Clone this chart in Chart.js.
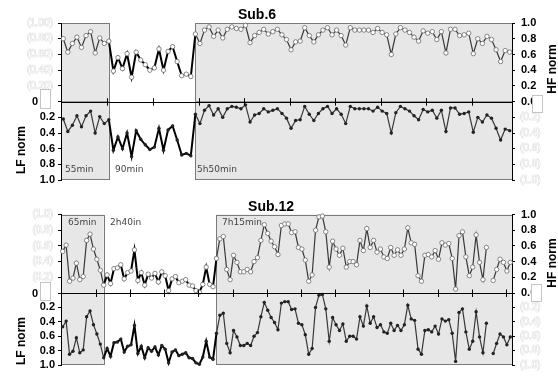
<!DOCTYPE html>
<html>
<head>
<meta charset="utf-8">
<script src="https://cdn.jsdelivr.net/npm/chart.js@4.4.1/dist/chart.umd.min.js"></script>
<style>
  html, body { margin: 0; padding: 0; background: #fff; }
  #wrap { position: relative; width: 558px; height: 376px; overflow: hidden; }
  #wrap canvas { position: absolute; left: 0; top: 0; }
</style>
</head>
<body>
<div id="wrap">
  <canvas id="hf6" width="558" height="376"></canvas>
  <canvas id="lf6" width="558" height="376"></canvas>
  <canvas id="hf12" width="558" height="376"></canvas>
  <canvas id="lf12" width="558" height="376"></canvas>
</div>
<script>
// Sub.6 (99 samples)
const sub6Hf = [0.80, 0.63, 0.74, 0.82, 0.69, 0.84, 0.89, 0.62, 0.81, 0.74, 0.77,
  0.39, 0.56, 0.42, 0.61, 0.31, 0.63, 0.53, 0.47, 0.40, 0.43, 0.67, 0.40, 0.64, 0.70, 0.51, 0.33, 0.35, 0.32,
  0.86, 0.74, 0.91, 0.95, 0.83, 0.91, 0.81, 0.92, 0.95, 0.93, 0.92, 0.97, 0.75, 0.84, 0.88, 0.92, 0.86, 0.89, 0.92,
  0.85, 0.79, 0.66, 0.76, 0.77, 0.94, 0.84, 0.76, 0.85, 0.91, 0.94, 0.85, 0.91, 0.84, 0.72, 0.94, 0.91, 0.91,
  0.91, 0.91, 0.88, 0.93, 0.88, 0.85, 0.60, 0.86, 0.94, 0.91, 0.88, 0.82, 0.77, 0.90, 0.87, 0.89, 0.79, 0.89,
  0.62, 0.92, 0.92, 0.84, 0.85, 0.87, 0.61, 0.80, 0.74, 0.83, 0.79, 0.66, 0.51, 0.65, 0.63];
const sub6Lf = [0.22, 0.38, 0.30, 0.18, 0.32, 0.18, 0.12, 0.40, 0.19, 0.28, 0.23,
  0.62, 0.45, 0.60, 0.40, 0.70, 0.37, 0.48, 0.55, 0.61, 0.58, 0.34, 0.62, 0.36, 0.31, 0.49, 0.68, 0.66, 0.69,
  0.16, 0.28, 0.11, 0.05, 0.17, 0.09, 0.20, 0.09, 0.06, 0.07, 0.09, 0.04, 0.26, 0.17, 0.15, 0.09, 0.13, 0.11, 0.09,
  0.15, 0.21, 0.34, 0.24, 0.23, 0.06, 0.16, 0.24, 0.15, 0.09, 0.06, 0.15, 0.09, 0.16, 0.28, 0.06, 0.09, 0.09,
  0.09, 0.09, 0.12, 0.07, 0.12, 0.15, 0.40, 0.14, 0.06, 0.09, 0.12, 0.18, 0.23, 0.10, 0.13, 0.11, 0.21, 0.11,
  0.38, 0.08, 0.08, 0.16, 0.15, 0.13, 0.39, 0.20, 0.26, 0.17, 0.21, 0.34, 0.49, 0.35, 0.37];

// Sub.12 (132 samples, one missing)
const sub12Hf = [0.53, 0.61, 0.15, 0.19, 0.38, 0.17, 0.21, 0.67, 0.75, 0.56, 0.43, 0.29, 0.10,
  0.23, 0.12, 0.31, 0.32, 0.36, 0.18, 0.26, 0.28, 0.55, 0.16, 0.26, 0.10, 0.24, 0.19, 0.25, 0.14, 0.27,
  0.22, 0.03, 0.18, 0.21, 0.13, 0.15, 0.17, 0.10, 0.09, 0.03, 0.01, 0.11, 0.33, 0.11, 0.08,
  0.44, 0.69, 0.72, 0.30, 0.17, 0.48, 0.39, 0.27, 0.27, 0.30, 0.27, 0.40, 0.45, 0.67, 0.87, 0.76, 0.66,
  0.59, 0.49, 0.86, 0.88, 0.88, 0.77, 0.78, 0.58, 0.56, 0.42, 0.15, 0.23, 0.80, 0.97, 0.98, 0.78, 0.33,
  0.66, 0.56, 0.48, 0.57, 0.33, 0.40, 0.40, 0.36, 0.67, 0.54, 0.82, 0.58, 0.67, 0.52, 0.56, 0.46, 0.44,
  0.58, 0.48, 0.55, 0.48, 0.56, 0.83, 0.64, 0.62, 0.22, 0.15, 0.48, 0.49, 0.46, 0.54, 0.43, 0.64, 0.61,
  0.63, 0.44, 0.05, 0.73, 0.78, 0.46, 0.22, 0.33, 0.74, 0.39, 0.17, 0.58, null, 0.16, 0.30, 0.43, 0.39,
  0.28, 0.39];
const sub12Lf = [0.47, 0.39, 0.85, 0.81, 0.62, 0.83, 0.79, 0.33, 0.25, 0.44, 0.57, 0.71, 0.90,
  0.77, 0.88, 0.69, 0.68, 0.64, 0.82, 0.74, 0.72, 0.45, 0.84, 0.74, 0.90, 0.76, 0.81, 0.75, 0.86, 0.73,
  0.78, 0.97, 0.82, 0.79, 0.87, 0.85, 0.83, 0.90, 0.91, 0.97, 0.99, 0.89, 0.67, 0.89, 0.92,
  0.56, 0.31, 0.28, 0.70, 0.83, 0.52, 0.61, 0.73, 0.73, 0.70, 0.73, 0.60, 0.55, 0.33, 0.13, 0.24, 0.34,
  0.41, 0.51, 0.14, 0.12, 0.12, 0.23, 0.22, 0.42, 0.44, 0.58, 0.85, 0.77, 0.20, 0.03, 0.02, 0.22, 0.67,
  0.34, 0.44, 0.52, 0.43, 0.67, 0.60, 0.60, 0.64, 0.33, 0.46, 0.18, 0.42, 0.33, 0.48, 0.44, 0.54, 0.56,
  0.42, 0.52, 0.45, 0.52, 0.44, 0.17, 0.36, 0.38, 0.78, 0.85, 0.52, 0.51, 0.54, 0.46, 0.57, 0.36, 0.39,
  0.37, 0.56, 0.95, 0.27, 0.22, 0.54, 0.78, 0.67, 0.26, 0.61, 0.83, 0.42, null, 0.84, 0.70, 0.57, 0.61,
  0.72, 0.61];

const normTicks = [0, 0.2, 0.4, 0.6, 0.8, 1.0];
const sub6Phases = ["55min", "90min", "5h50min"];
const sub12Phases = ["65min", "2h40in", "7h15min"];
// last sample of first shaded block, first sample of last shaded block
const sub6Shade = [10, 29];
const sub12Shade = [12, 45];

const sans = "'Liberation Sans', Arial, sans-serif";
const shadeFill = "#e7e7e7";
const shadeEdge = "#7a7a7a";
const faint = "#cfcfcf";

function axisLabel(fmt, faintText) {
  return {
    autoSkip: false,
    color: faintText ? "#fafafa" : "#000",
    textStrokeColor: faintText ? faint : undefined,
    textStrokeWidth: faintText ? 0.7 : 0,
    font: faintText ? { family: sans, size: 10 } : { family: sans, size: 11, weight: "bold" },
    padding: faintText ? 5 : 3,
    callback: fmt
  };
}

function buildPanel(id, cfg) {
  const canvas = document.getElementById(id);
  const isHf = cfg.kind === "hf";
  const labels = cfg.values.map((v, i) => i + 1);
  const middle = (c) => c.p0DataIndex >= cfg.shade[0] && c.p1DataIndex <= cfg.shade[1];

  const panelPlugin = {
    id: "panel",
    beforeDraw(chart) {
      const { ctx, chartArea: a, scales } = chart;
      const xEnd = scales.x.getPixelForValue(cfg.shade[0]);
      const xStart = scales.x.getPixelForValue(cfg.shade[1]);
      ctx.save();
      ctx.fillStyle = shadeFill;
      ctx.strokeStyle = shadeEdge;
      ctx.lineWidth = 1;
      [[a.left, xEnd], [xStart, a.right]].forEach(([l, r]) => {
        ctx.fillRect(l, a.top, r - l, a.bottom - a.top);
        ctx.strokeRect(Math.round(l) + 0.5, Math.round(a.top) + 0.5, Math.round(r - l), Math.round(a.bottom - a.top) - 1);
      });
      ctx.restore();
    },
    afterDraw(chart) {
      if (cfg.afterDraw) cfg.afterDraw(chart);
    }
  };

  const pad = (v) => ({ value: v });
  const zeroBlank = (fmt) => (v) => (v === 0 ? "" : fmt(v));

  new Chart(canvas, {
    type: "line",
    data: {
      labels,
      datasets: [{
        data: cfg.values,
        yAxisID: "yl",
        borderColor: "#333",
        borderWidth: 1.2,
        spanGaps: false,
        clip: 6,
        pointRadius: isHf ? 2.2 : 1.7,
        pointBackgroundColor: isHf ? "#fff" : "#222",
        pointBorderColor: isHf ? "#6a6a6a" : "#222",
        pointBorderWidth: isHf ? 0.8 : 0,
        segment: {
          borderColor: (c) => (middle(c) ? "#000" : "#383838"),
          borderWidth: (c) => (middle(c) ? 2 : 1.2)
        }
      }]
    },
    options: {
      responsive: false,
      animation: false,
      events: [],
      layout: { padding: { top: cfg.top, bottom: 376 - cfg.bottom, left: 0, right: 0 } },
      plugins: { legend: { display: false }, tooltip: { enabled: false } },
      scales: {
        x: { type: "category", offset: true, display: false },
        yl: {
          position: "left",
          min: 0,
          max: 1,
          reverse: !isHf,
          afterFit: (s) => { s.width = 61; },
          afterBuildTicks: (s) => { s.ticks = normTicks.map(pad); },
          ticks: isHf
            ? axisLabel(zeroBlank((v) => "(" + v.toFixed(cfg.faintDigits) + ")"), true)
            : axisLabel(zeroBlank((v) => v.toFixed(1)), false),
          grid: { drawOnChartArea: false, drawTicks: true, tickLength: 3, color: "#000" },
          border: { display: true, color: "#000", width: 1 }
        },
        yr: {
          position: "right",
          min: 0,
          max: 1,
          reverse: !isHf,
          afterFit: (s) => { s.width = 46; },
          afterBuildTicks: (s) => { s.ticks = normTicks.map(pad); },
          ticks: isHf
            ? Object.assign(axisLabel((v) => v.toFixed(1), false), { padding: 6 })
            : axisLabel(zeroBlank((v) => "(" + v.toFixed(1) + ")"), true),
          grid: { drawOnChartArea: false, drawTicks: true, tickLength: 3, color: "#000" },
          border: { display: true, color: "#000", width: 1 }
        }
      }
    },
    plugins: [panelPlugin]
  });
}

function subjectDecor(info) {
  return (chart) => {
    const { ctx, chartArea: a, scales } = chart;
    const y0 = a.top;
    ctx.save();
    // zero line with crossing ticks every 10 samples
    ctx.strokeStyle = "#000";
    ctx.lineWidth = 1;
    ctx.beginPath();
    ctx.moveTo(a.left, Math.round(y0) + 0.5);
    ctx.lineTo(a.right, Math.round(y0) + 0.5);
    for (let k = 10; k < info.count; k += 10) {
      const x = Math.round(scales.x.getPixelForValue(k - 0.3)) + 0.5;
      ctx.moveTo(x, y0 - 3.5);
      ctx.lineTo(x, y0 + 4);
    }
    ctx.stroke();

    // title
    ctx.fillStyle = "#000";
    ctx.textBaseline = "middle";
    ctx.textAlign = "center";
    ctx.font = "bold 14px " + sans;
    ctx.fillText(info.title, info.titleX, info.titleY);

    // zero label and the two little white boxes
    ctx.font = "bold 11px " + sans;
    ctx.fillText("0", 35, y0 + 0.5);
    ctx.fillStyle = "#fff";
    ctx.strokeStyle = "#c4c4c4";
    info.boxes.forEach(([bx, by, bw, bh]) => {
      ctx.fillRect(bx, by, bw, bh);
      ctx.strokeRect(bx + 0.5, by + 0.5, bw, bh);
    });

    // axis titles
    ctx.fillStyle = "#000";
    ctx.font = "bold 12px " + sans;
    ctx.save();
    ctx.translate(21.5, info.lfY);
    ctx.rotate(-Math.PI / 2);
    ctx.fillText("LF norm", 0, 0);
    ctx.restore();
    ctx.save();
    ctx.translate(553, info.hfY);
    ctx.rotate(-Math.PI / 2);
    ctx.fillText("HF norm", 0, 0);
    ctx.restore();

    // phase durations
    ctx.fillStyle = "#444";
    ctx.textAlign = "left";
    ctx.font = "9px 'DejaVu Sans', Verdana, sans-serif";
    info.phases.forEach((t, i) => ctx.fillText(t, info.phaseX[i], info.phaseY));
    ctx.restore();
  };
}

buildPanel("hf6", { kind: "hf", values: sub6Hf, shade: sub6Shade, top: 23, bottom: 101.7, faintDigits: 2 });
buildPanel("lf6", {
  kind: "lf", values: sub6Lf, shade: sub6Shade, top: 101.7, bottom: 180,
  afterDraw: subjectDecor({
    count: sub6Lf.length, title: "Sub.6", titleX: 257, titleY: 15,
    boxes: [[40, 89, 10, 19], [532, 95, 10, 17]],
    lfY: 150, hfY: 69,
    phases: sub6Phases, phaseX: [65, 115, 197], phaseY: 170
  })
});
buildPanel("hf12", { kind: "hf", values: sub12Hf, shade: sub12Shade, top: 214.5, bottom: 293, faintDigits: 1 });
buildPanel("lf12", {
  kind: "lf", values: sub12Lf, shade: sub12Shade, top: 293, bottom: 370.5,
  afterDraw: subjectDecor({
    count: sub12Lf.length, title: "Sub.12", titleX: 271, titleY: 207,
    boxes: [[40, 282, 10, 18], [531, 284, 10, 17]],
    lfY: 341, hfY: 263,
    phases: sub12Phases, phaseX: [68, 110, 222], phaseY: 223
  })
});
</script>
</body>
</html>
